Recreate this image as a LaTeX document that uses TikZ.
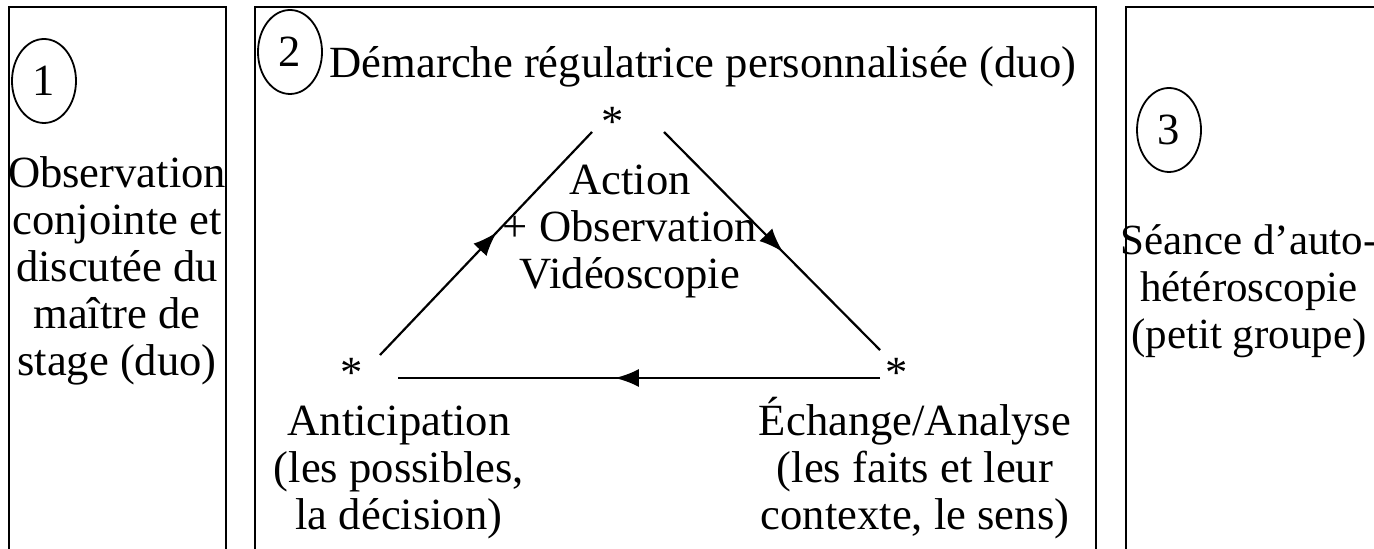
\documentclass[tikz,border=0pt]{standalone}
\usepackage{fontspec}
\setmainfont{Liberation Serif}
\usetikzlibrary{shapes.geometric,decorations.markings,arrows.meta}
\tikzset{
	num/.style={draw, ellipse, line width=0.9pt, minimum width=32pt, minimum height=42pt, inner sep=0pt},
	txt/.style={align=center, inner sep=0pt},
	midarrow/.style={postaction={decorate}, decoration={markings, mark=at position 0.55 with {\arrow{Latex[length=12pt,width=9pt]}}}}
}

\begin{document}
\begin{tikzpicture}[x=0.5pt, y=-0.5pt, line width=1.1pt, font=\fontsize{22.3}{23.5}\selectfont]
			\clip (0,0) rectangle (1374,549);
			
			\foreach \l/\r in {9/226, 255/1096, 1126/1420}
			{
				\draw (\l,7) rectangle (\r,580);
			}
			
			\node[num] (n1) at (44,81) {1};
			\node[num] (n2) at (290,52) {2};
			\node[num] (n3) at (1169,130) {3};
			
			\node[txt] (obs) at (117,271) {Observation\\conjointe et\\discutée du\\maître de\\stage (duo)};
			\node[txt, anchor=base] (dem) at (703,78) {Démarche régulatrice personnalisée (duo)};
			\node[txt, font=\fontsize{21.5}{23.5}\selectfont] (seance) at (1249,291) {Séance d’auto-\\hétéroscopie\\(petit groupe)};
			
			\node[inner sep=0pt] (sAct) at (613,122) {*};
			\node[inner sep=0pt] (sAnt) at (352,373) {*};
			\node[inner sep=0pt] (sEch) at (897,373) {*};
			
			\node[txt] (act) at (630,231) {Action\\+ Observation\\Vidéoscopie};
			\node[txt] (ant) at (399,472) {Anticipation\\(les possibles,\\la décision)};
			\node[txt] (ech) at (915,468) {Échange/Analyse\\(les faits et leur\\contexte, le sens)};
			
			\coordinate (a1) at (380,355);
			\coordinate (a2) at (592,132);
			\coordinate (b1) at (664,132);
			\coordinate (b2) at (880,350);
			\coordinate (c1) at (880,378);
			\coordinate (c2) at (398,378);
			
			\draw[midarrow] (a1) -- (a2);
			\draw[midarrow] (b1) -- (b2);
			\draw[midarrow] (c1) -- (c2);
			\end{tikzpicture}
\end{document}
